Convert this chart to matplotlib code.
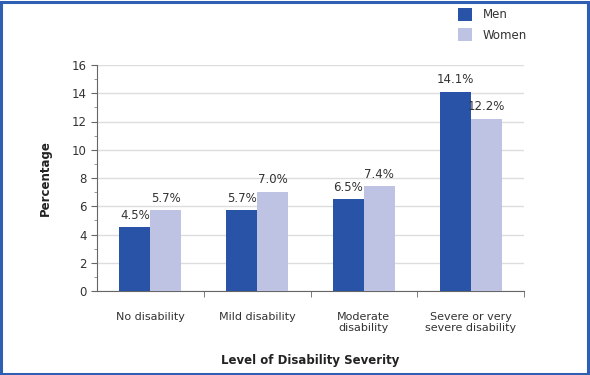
import numpy as np
import matplotlib.pyplot as plt
from matplotlib.patches import Rectangle

# data
categories = ['No disability', 'Mild disability', 'Moderate\ndisability',
              'Severe or very\nsevere disability']
men = [4.5, 5.7, 6.5, 14.1]
women = [5.7, 7.0, 7.4, 12.2]

men_color = '#2953a6'
women_color = '#bfc3e3'
text_color = '#333333'

plt.rcParams['font.family'] = ['DejaVu Sans']
plt.rcParams['font.size'] = 8

fig = plt.figure(figsize=(5.9, 3.75), dpi=100)
ax = fig.add_axes([97/590, 1-291/375, (524-97)/590, (291-65)/375])

x = np.arange(len(categories))
w = 0.29
b1 = ax.bar(x - w/2, men, w, color=men_color, label='Men', zorder=3)
b2 = ax.bar(x + w/2, women, w, color=women_color, label='Women', zorder=3)

for bars, vals in [(b1, men), (b2, women)]:
    for r, v in zip(bars, vals):
        ax.text(r.get_x() + r.get_width()/2, v + 0.4, '%.1f%%' % v,
                ha='center', va='bottom', fontsize=8.5, color=text_color)

ax.set_xlim(-0.5, 3.5)
ax.set_ylim(0, 16)
ax.set_yticks(range(0, 17, 2))
ax.set_yticks(range(0, 17), minor=True)
ax.yaxis.grid(True, color='#dddddd', linewidth=1, zorder=0)
ax.set_xticks(x)
ax.set_xticklabels(categories, color=text_color)
ax.set_xticks([0.5, 1.5, 2.5, 3.5], minor=True)
ax.tick_params(axis='x', which='major', length=0, pad=15)
ax.tick_params(axis='x', which='minor', length=4, color='#666666')
ax.tick_params(axis='y', which='major', length=4, color='#666666', labelcolor=text_color, labelsize=8.5)
ax.tick_params(axis='y', which='minor', length=2, color='#888888')

for s in ['top', 'right']:
    ax.spines[s].set_visible(False)
for s in ['left', 'bottom']:
    ax.spines[s].set_color('#666666')

ax.set_ylabel('Percentage', fontweight='bold', fontsize=8.5, labelpad=14, color='#222222')
ax.set_xlabel('Level of Disability Severity', fontweight='bold', fontsize=8.5,
              labelpad=15, color='#222222')

fig.legend(handles=[b1, b2], loc='upper left', bbox_to_anchor=(447/590, 1 + 3/375),
           frameon=False, fontsize=8.5, handlelength=1.2, handleheight=1.4,
           labelspacing=0.55, handletextpad=0.9, labelcolor=text_color)

fig.patches.append(Rectangle((0.002, 0.003), 0.994, 0.993, transform=fig.transFigure,
                             fill=False, edgecolor='#2e5fb3', linewidth=2.2))

fig.savefig('out.png', dpi=100)
